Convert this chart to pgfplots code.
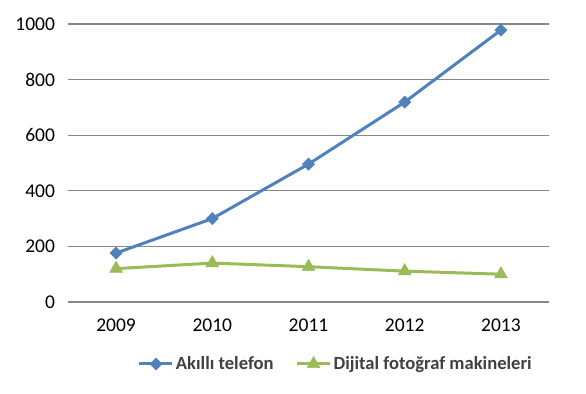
\documentclass[border=0pt]{standalone}
\usepackage{fontspec}
\setmainfont{Carlito}
\usepackage{pgfplots}
\pgfplotsset{compat=1.18}
\definecolor{sblue}{HTML}{4F81BD}
\definecolor{sgreen}{HTML}{9BBB59}
\definecolor{gridc}{HTML}{878787}
\definecolor{legtext}{HTML}{404040}
\begin{document}
\begin{tikzpicture}
\useasboundingbox (0,0) rectangle (586bp,394bp);
\begin{axis}[
  at={(68bp,92bp)}, anchor=south west,
  scale only axis, width=481bp, height=278bp,
  xmin=0, xmax=5, ymin=0, ymax=1000,
  xtick={0.5,1.5,2.5,3.5,4.5},
  xticklabels={2009,2010,2011,2012,2013},
  ytick={0,200,400,600,800,1000},
  ymajorgrids,
  major grid style={gridc, line width=1.1bp},
  axis line style={draw=none},
  tick style={draw=none},
  clip=false,
  /pgf/number format/assume math mode=true,
  /pgf/number format/1000 sep={},
  ticklabel style={font=\fontsize{19.5bp}{23bp}\selectfont, text=black},
  yticklabel style={xshift=-9.5bp},
  xticklabel style={yshift=-13bp},
  legend columns=2,
  legend style={at={(axis description cs:0.145,-0.223)}, anchor=west, draw=none, fill=none,
    font=\fontsize{18.6bp}{22bp}\selectfont\bfseries, text=legtext,
    inner sep=0pt,
    /tikz/every even column/.append style={column sep=20bp}},
  legend image code/.code={\draw[mark repeat=2,mark phase=2,#1] plot coordinates {(0bp,0bp) (16.5bp,0bp) (33bp,0bp)};},
]
\addplot[color=sblue, line width=3bp, mark=square*, mark size=4.3bp, mark options={rotate=45, solid, line width=0.5bp}]
  coordinates {(0.5,176) (1.5,300) (2.5,496) (3.5,719) (4.5,978)};
\addlegendentry{Akıllı telefon}
\addplot[color=sgreen, line width=3bp, mark=triangle*, mark size=7.5bp, mark options={solid, line width=0.5bp}]
  coordinates {(0.5,120) (1.5,140) (2.5,127) (3.5,111) (4.5,100)};
\addlegendentry{Dijital fotoğraf makineleri}
\end{axis}
\end{tikzpicture}
\end{document}
